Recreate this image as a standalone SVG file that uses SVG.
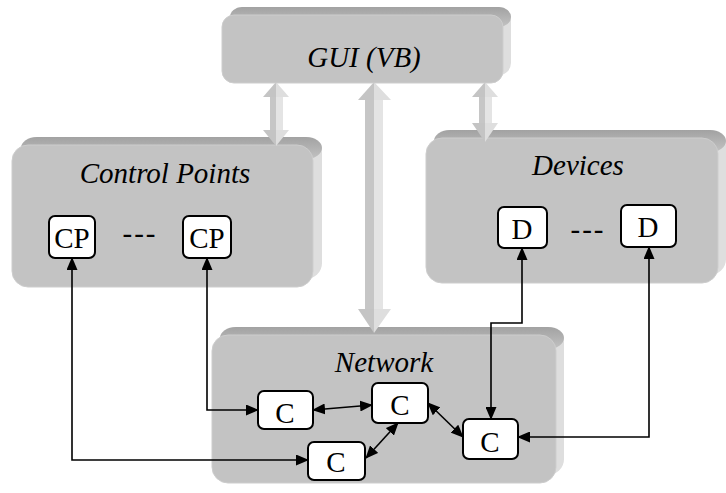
<svg xmlns="http://www.w3.org/2000/svg" width="726" height="493" viewBox="0 0 726 493">
  <defs>
    <linearGradient id="bevelTop" x1="0" y1="0" x2="0" y2="1">
      <stop offset="0" stop-color="#a2a2a2"/>
      <stop offset="1" stop-color="#c2c2c2"/>
    </linearGradient>
    <marker id="tip" markerUnits="userSpaceOnUse" markerWidth="13" markerHeight="11" viewBox="0 0 13 11" refX="12" refY="5.5" orient="auto-start-reverse">
      <path d="M0,0 L13,5.5 L0,11 z" fill="#000"/>
    </marker>
  </defs>
  <style>
    .side { fill: #dedede; }
    .top { fill: url(#bevelTop); }
    .face { fill: #c3c3c3; stroke: #cdcdcd; stroke-width: 1; }
    text { font-family: "Liberation Serif", "DejaVu Serif", serif; fill: #000; text-anchor: middle; font-size: 29px; }
    .title { font-style: italic; }
    .node rect { fill: #fff; stroke: #000; stroke-width: 2; }
    .conn { fill: none; stroke: #000; stroke-width: 1.6; marker-start: url(#tip); marker-end: url(#tip); }
    .shaftL { fill: #c6c6c6; }
    .shaftR { fill: #e4e4e4; }
    .headL { fill: #c4c4c4; }
    .headR { fill: #dedede; }
  </style>

  <!-- Control Points container -->
  <g id="control-points">
    <rect class="side" x="21" y="137" width="301" height="142" rx="16"/>
    <rect class="top" x="21" y="137" width="301" height="22" rx="16"/>
    <rect class="face" x="12" y="145" width="301" height="142" rx="16"/>
    <text class="title" x="165" y="183" font-family="Liberation Serif, serif">Control Points</text>
  </g>

  <!-- Devices container -->
  <g id="devices">
    <rect class="side" x="434" y="130" width="292" height="145" rx="16"/>
    <rect class="top" x="434" y="130" width="292" height="22" rx="16"/>
    <rect class="face" x="426" y="138" width="292" height="145" rx="16"/>
    <text class="title" x="578" y="175" font-family="Liberation Serif, serif">Devices</text>
  </g>

  <!-- Network container -->
  <g id="network">
    <rect class="side" x="220" y="327" width="344" height="148" rx="16"/>
    <rect class="top" x="220" y="327" width="344" height="22" rx="16"/>
    <rect class="face" x="212" y="335" width="344" height="148" rx="16"/>
    <text class="title" x="384" y="372" font-family="Liberation Serif, serif">Network</text>
  </g>

  <!-- wide 3D double arrows from the GUI layer -->
  <g id="gui-links">
    <!-- GUI to Control Points -->
    <rect class="shaftL" x="270" y="95" width="6" height="37"/>
    <rect class="shaftR" x="276" y="95" width="7" height="37"/>
    <polygon class="headL" points="276,82 263,97 276,97"/>
    <polygon class="headR" points="276,82 289,97 276,97"/>
    <polygon class="headL" points="263,130 276,146 276,130"/>
    <polygon class="headR" points="289,130 276,146 276,130"/>
    <!-- GUI to Devices -->
    <rect class="shaftL" x="479" y="95" width="6" height="30"/>
    <rect class="shaftR" x="485" y="95" width="7" height="30"/>
    <polygon class="headL" points="485,82 472,97 485,97"/>
    <polygon class="headR" points="485,82 498,97 485,97"/>
    <polygon class="headL" points="472,123 485,142 485,123"/>
    <polygon class="headR" points="498,123 485,142 485,123"/>
    <!-- GUI to Network -->
    <rect class="shaftL" x="365" y="98" width="9" height="213"/>
    <rect class="shaftR" x="374" y="98" width="9" height="213"/>
    <polygon class="headL" points="374,82 358,100 374,100"/>
    <polygon class="headR" points="374,82 391,100 374,100"/>
    <polygon class="headL" points="358,309 374,333 374,309"/>
    <polygon class="headR" points="391,309 374,333 374,309"/>
  </g>

  <!-- GUI container -->
  <g id="gui">
    <rect class="side" x="230" y="7" width="281" height="68" rx="12"/>
    <rect class="top" x="230" y="7" width="281" height="20" rx="12"/>
    <rect class="face" x="222" y="15" width="281" height="68" rx="12"/>
    <text class="title" x="364" y="67" font-family="Liberation Serif, serif">GUI (VB)</text>
  </g>

  <!-- connectors -->
  <g id="connectors">
    <path class="conn" d="M72,258 V460 H308"/>
    <path class="conn" d="M207,258 V410 H258"/>
    <path class="conn" d="M522,248 V323 H491 V419"/>
    <path class="conn" d="M649,247 V437 H518"/>
    <path class="conn" d="M313,410 L372,405"/>
    <path class="conn" d="M398,423 L366,458"/>
    <path class="conn" d="M428,403 L463,437"/>
  </g>

  <!-- control point nodes -->
  <g id="cp1" class="node">
    <rect x="49" y="216" width="46" height="42" rx="6"/>
    <text x="72" y="248" font-family="Liberation Serif, serif">CP</text>
  </g>
  <g id="cp2" class="node">
    <rect x="183" y="216" width="48" height="42" rx="6"/>
    <text x="207" y="248" font-family="Liberation Serif, serif">CP</text>
  </g>
  <text x="140" y="243" letter-spacing="2" font-family="Liberation Serif, serif">---</text>

  <!-- device nodes -->
  <g id="d1" class="node">
    <rect x="498" y="207" width="49" height="41" rx="6"/>
    <text x="522" y="239" font-family="Liberation Serif, serif">D</text>
  </g>
  <g id="d2" class="node">
    <rect x="621" y="205" width="55" height="42" rx="6"/>
    <text x="648" y="237" font-family="Liberation Serif, serif">D</text>
  </g>
  <text x="588" y="239" letter-spacing="2" font-family="Liberation Serif, serif">---</text>

  <!-- network connector nodes -->
  <g id="c1" class="node">
    <rect x="258" y="391" width="55" height="38" rx="6"/>
    <text x="285" y="423" font-family="Liberation Serif, serif">C</text>
  </g>
  <g id="c2" class="node">
    <rect x="372" y="383" width="56" height="40" rx="6"/>
    <text x="400" y="415" font-family="Liberation Serif, serif">C</text>
  </g>
  <g id="c3" class="node">
    <rect x="308" y="442" width="57" height="38" rx="6"/>
    <text x="336" y="472" font-family="Liberation Serif, serif">C</text>
  </g>
  <g id="c4" class="node">
    <rect x="463" y="419" width="55" height="40" rx="6"/>
    <text x="490" y="452" font-family="Liberation Serif, serif">C</text>
  </g>
</svg>
